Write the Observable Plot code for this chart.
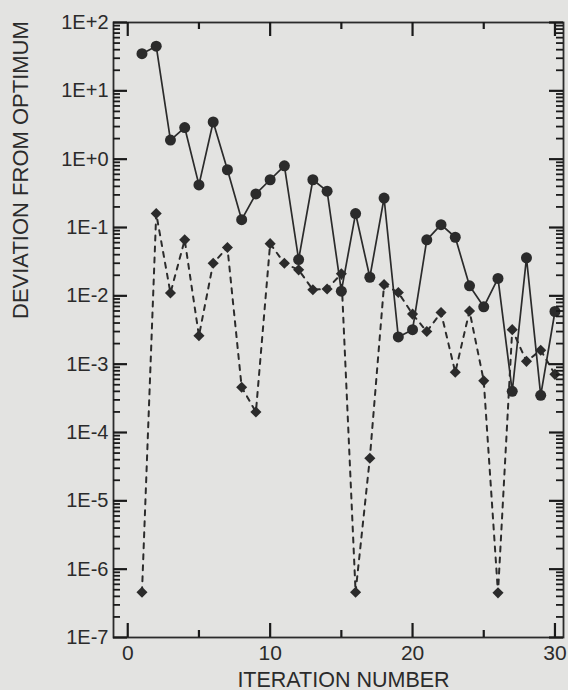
<!DOCTYPE html>
<html>
<head>
<meta charset="utf-8">
<script src="https://cdn.jsdelivr.net/npm/d3@7"></script>
<script src="https://cdn.jsdelivr.net/npm/@observablehq/plot@0.6"></script>
<style>
  html, body { margin: 0; padding: 0; background: #e3e3e1; }
  #chart { width: 568px; height: 690px; }
</style>
</head>
<body>
<div id="chart"></div>
<script>
// ---- data ----
const iterations = [1,2,3,4,5,6,7,8,9,10,11,12,13,14,15,16,17,18,19,20,21,22,23,24,25,26,27,28,29,30];
// solid line, circle markers
const solidValues = [35, 45, 1.9, 2.9, 0.42, 3.5, 0.7, 0.13, 0.31, 0.5,
                     0.8, 0.034, 0.5, 0.34, 0.0117, 0.16, 0.0187, 0.27, 0.0025, 0.0032,
                     0.066, 0.11, 0.072, 0.014, 0.0069, 0.018, 0.0004, 0.036, 0.00035, 0.0059];
// dashed line, diamond markers
const dashedValues = [4.6e-7, 0.16, 0.011, 0.066, 0.0026, 0.030, 0.051, 4.6e-4, 2.0e-4, 0.058,
                      0.030, 0.024, 0.0123, 0.0126, 0.021, 4.6e-7, 4.2e-5, 0.0146, 0.0112, 0.0054,
                      0.003, 0.0057, 7.6e-4, 0.006, 5.7e-4, 4.5e-7, 0.0032, 0.0011, 0.0016, 7.1e-4];
const xTickValues = [0, 10, 20, 30];
const xMinorTickValues = [5, 15, 25];
const yDecades = [1e-7, 1e-6, 1e-5, 1e-4, 1e-3, 1e-2, 1e-1, 1e0, 1e1, 1e2];
const yTickLabels = ["1E-7", "1E-6", "1E-5", "1E-4", "1E-3", "1E-2", "1E-1", "1E+0", "1E+1", "1E+2"];
const xLabel = "ITERATION NUMBER";
const yLabel = "DEVIATION FROM OPTIMUM";

// ---- derived tables ----
const solid = iterations.map((x, i) => ({x, y: solidValues[i]}));
const dashed = iterations.map((x, i) => ({x, y: dashedValues[i]}));
const yMinor = [];
yDecades.slice(0, -1).forEach(d => { for (let m = 2; m <= 9; m++) yMinor.push(d * m); });

// ---- layout / style ----
const W = 568, H = 690, mL = 113, mR = 5, mT = 22, mB = 53;
const frameW = W - mL - mR, frameH = H - mT - mB;
const xDomain = [-1, 30.6], yDomain = [1e-7, 1e2];
const majorLen = 14, minorLen = 7;
const ink = "#2b2b2b";
const tickInk = "#1a1a1a";
const font = "'Liberation Sans', Arial, Helvetica, sans-serif";

// inward ticks: pixel lengths expressed as spans in scale units
const xPerPx = (xDomain[1] - xDomain[0]) / frameW;
const decPerPx = Math.log10(yDomain[1] / yDomain[0]) / frameH;
const yTicksLeft = (vals, len, sw) => Plot.ruleY(vals, {y: d => d, x1: xDomain[0], x2: xDomain[0] + len * xPerPx, stroke: tickInk, strokeWidth: sw});
const yTicksRight = (vals, len, sw) => Plot.ruleY(vals, {y: d => d, x1: xDomain[1] - len * xPerPx, x2: xDomain[1], stroke: tickInk, strokeWidth: sw});
const xTicksBottom = (vals, len, sw) => Plot.ruleX(vals, {x: d => d, y1: yDomain[0], y2: yDomain[0] * Math.pow(10, len * decPerPx), stroke: tickInk, strokeWidth: sw});
const xTicksTop = (vals, len, sw) => Plot.ruleX(vals, {x: d => d, y1: yDomain[1] / Math.pow(10, len * decPerPx), y2: yDomain[1], stroke: tickInk, strokeWidth: sw});

const chart = Plot.plot({
  width: W,
  height: H,
  marginLeft: mL,
  marginRight: mR,
  marginTop: mT,
  marginBottom: mB,
  style: {background: "transparent", fontFamily: font, fontSize: "20px", color: ink},
  x: {domain: xDomain},
  y: {type: "log", domain: yDomain},
  marks: [
    // tick labels
    Plot.axisY(yDecades, {anchor: "left", tickSize: 0, tickPadding: 5, label: null,
      tickFormat: d => yTickLabels[yDecades.indexOf(d)], fill: ink, fontSize: 20}),
    Plot.axisX(xTickValues, {anchor: "bottom", tickSize: 0, tickPadding: 8, label: null,
      tickFormat: d => String(d), fill: ink, fontSize: 21}),
    Plot.frame({stroke: ink, strokeWidth: 1.8}),
    // axis titles
    Plot.text([xLabel], {frameAnchor: "bottom", dx: 5, dy: 49, lineAnchor: "bottom", fontSize: 21.5, fill: ink}),
    Plot.text([yLabel], {frameAnchor: "left", rotate: -90, dx: -93, dy: -11, lineAnchor: "middle", fontSize: 22, fill: ink}),
    // series
    Plot.line(dashed, {x: "x", y: "y", stroke: ink, strokeWidth: 2, strokeDasharray: "5,6"}),
    Plot.line(solid, {x: "x", y: "y", stroke: ink, strokeWidth: 1.7}),
    Plot.dot(dashed, {x: "x", y: "y", symbol: "diamond2", r: 5, fill: ink, stroke: null}),
    Plot.dot(solid, {x: "x", y: "y", r: 5.5, fill: ink, stroke: null}),
    // inward ticks on all four sides (drawn last)
    yTicksLeft(yDecades, majorLen, 2.2),
    yTicksLeft(yMinor, minorLen, 1.8),
    yTicksRight(yDecades, majorLen, 2.2),
    yTicksRight(yMinor, minorLen, 1.8),
    xTicksBottom(xTickValues, majorLen, 2.2),
    xTicksBottom(xMinorTickValues, minorLen, 2.2),
    xTicksTop(xTickValues, majorLen, 2.2),
    xTicksTop(xMinorTickValues, minorLen, 2.2)
  ]
});
document.getElementById("chart").appendChild(chart);
</script>
</body>
</html>
